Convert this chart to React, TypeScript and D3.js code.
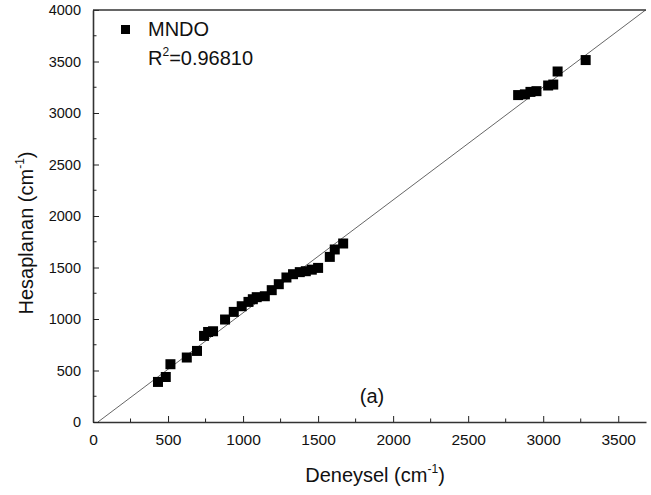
import React, { useEffect, useRef } from 'react';
import * as d3 from 'd3';

// experimental (deneysel) vs calculated (hesaplanan) frequencies, cm-1
const deneysel = [
  433, 485, 516, 625, 693, 740, 767, 800, 880, 938, 991, 1036, 1065, 1091,
  1145, 1191, 1238, 1289, 1333, 1378, 1418, 1458, 1500, 1578, 1611, 1667,
  2833, 2878, 2915, 2955, 3033, 3067, 3096, 3283,
];
const hesaplanan = [
  389, 437, 561, 626, 690, 836, 874, 881, 995, 1069, 1124, 1166, 1192, 1212,
  1221, 1280, 1338, 1403, 1435, 1455, 1464, 1479, 1496, 1603, 1675, 1733,
  3174, 3181, 3205, 3212, 3267, 3276, 3403, 3514,
];
const xTicks = [0, 500, 1000, 1500, 2000, 2500, 3000, 3500];
const yTicks = [0, 500, 1000, 1500, 2000, 2500, 3000, 3500, 4000];
const fitSlope = 1.096;
const fitIntercept = -36;
const seriesName = 'MNDO';
const r2Value = '=0.96810';

const W = 651, H = 495;
const margin = { left: 93, right: 5, top: 10, bottom: 73 };
const FONT = 'Liberation Sans, Arial, sans-serif';

export default function App() {
  const ref = useRef<SVGSVGElement>(null);

  useEffect(() => {
    const svg = d3.select(ref.current);
    svg.selectAll('*').remove();

    const xMax = 3685;
    const x = d3.scaleLinear().domain([0, xMax]).range([margin.left, W - margin.right]);
    const y = d3.scaleLinear().domain([0, 4000]).range([H - margin.bottom, margin.top]);

    svg.append('defs').append('clipPath').attr('id', 'plotclip')
      .append('rect')
      .attr('x', x(0)).attr('y', y(4000))
      .attr('width', x(xMax) - x(0)).attr('height', y(0) - y(4000));

    // fit line
    const x0 = -fitIntercept / fitSlope;
    svg.append('line')
      .attr('clip-path', 'url(#plotclip)')
      .attr('x1', x(x0)).attr('y1', y(0))
      .attr('x2', x(xMax)).attr('y2', y(fitSlope * xMax + fitIntercept))
      .attr('stroke', '#555').attr('stroke-width', 0.9);

    // points
    const pts = deneysel.map((d, i) => [d, hesaplanan[i]]);
    svg.append('g').selectAll('rect')
      .data(pts)
      .enter().append('rect')
      .attr('x', d => x(d[0]) - 5)
      .attr('y', d => y(d[1]) - 5)
      .attr('width', 10).attr('height', 10)
      .attr('fill', '#000');

    // axes
    const fmt = d3.format('d');
    const xAxis = svg.append('g')
      .attr('transform', 'translate(0,' + y(0) + ')')
      .call(d3.axisBottom(x).tickValues(xTicks).tickFormat(fmt).tickSizeInner(-6).tickSizeOuter(0).tickPadding(12));
    xAxis.append('g').selectAll('line')
      .data(xTicks.map(t => t + 250).filter(t => t < xMax))
      .enter().append('line')
      .attr('x1', d => x(d)).attr('x2', d => x(d))
      .attr('y1', 0).attr('y2', -3.5)
      .attr('stroke', '#222');

    const yAxis = svg.append('g')
      .attr('transform', 'translate(' + x(0) + ',0)')
      .call(d3.axisLeft(y).tickValues(yTicks).tickFormat(fmt).tickSizeInner(-6).tickSizeOuter(0).tickPadding(12));
    yAxis.append('g').selectAll('line')
      .data(yTicks.map(t => t + 250).filter(t => t < 4000))
      .enter().append('line')
      .attr('y1', d => y(d)).attr('y2', d => y(d))
      .attr('x1', 0).attr('x2', 3.5)
      .attr('stroke', '#222');

    [xAxis, yAxis].forEach(a => {
      a.select('.domain').attr('stroke', '#333').attr('stroke-width', 1.6);
      a.selectAll('.tick line').attr('stroke', '#222');
      a.selectAll('.tick text').attr('font-family', FONT).attr('fill', '#111');
    });
    xAxis.selectAll('.tick text').attr('font-size', 15.5);
    yAxis.selectAll('.tick text').attr('font-size', 14.5);

    // top frame line
    svg.append('line')
      .attr('x1', x(0)).attr('x2', x(xMax))
      .attr('y1', y(4000)).attr('y2', y(4000))
      .attr('stroke', '#333').attr('stroke-width', 1.6);

    // axis titles
    const xt = svg.append('text')
      .attr('x', 375).attr('y', 482)
      .attr('text-anchor', 'middle')
      .attr('font-family', FONT).attr('font-size', 20).attr('fill', '#111');
    xt.append('tspan').text('Deneysel (cm');
    xt.append('tspan').attr('dy', -9).attr('font-size', 12).text('-1');
    xt.append('tspan').attr('dy', 9).text(')');

    const yt = svg.append('text')
      .attr('transform', 'translate(33,233) rotate(-90)')
      .attr('text-anchor', 'middle')
      .attr('font-family', FONT).attr('font-size', 20).attr('fill', '#111');
    yt.append('tspan').text('Hesaplanan (cm');
    yt.append('tspan').attr('dy', -9).attr('font-size', 12).text('-1');
    yt.append('tspan').attr('dy', 9).text(')');

    // legend
    svg.append('rect')
      .attr('x', 121).attr('y', 25).attr('width', 9).attr('height', 9)
      .attr('fill', '#000');
    svg.append('text')
      .attr('x', 148).attr('y', 36)
      .attr('font-family', FONT).attr('font-size', 20).attr('fill', '#111')
      .text(seriesName);
    const r2 = svg.append('text')
      .attr('x', 148).attr('y', 65)
      .attr('font-family', FONT).attr('font-size', 20).attr('fill', '#111');
    r2.append('tspan').text('R');
    r2.append('tspan').attr('dy', -9).attr('font-size', 12).text('2');
    r2.append('tspan').attr('dy', 9).text(r2Value);

    svg.append('text')
      .attr('x', 372).attr('y', 403)
      .attr('text-anchor', 'middle')
      .attr('font-family', FONT).attr('font-size', 20).attr('fill', '#111')
      .text('(a)');
  }, []);

  return (
    <svg ref={ref} width={W} height={H} style={{ position: 'absolute', left: 0, top: 0, background: '#fff' }} />
  );
}
